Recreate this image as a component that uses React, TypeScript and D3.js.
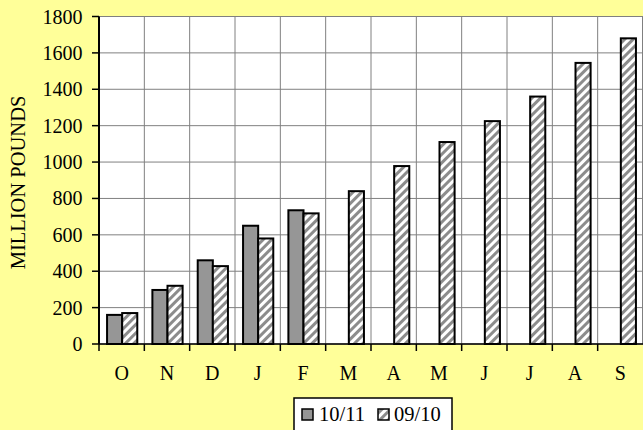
import React from "react";
import * as d3 from "d3";

const categories = ["O", "N", "D", "J", "F", "M", "A", "M", "J", "J", "A", "S"];
const series1011 = [160, 297, 460, 650, 735, null, null, null, null, null, null, null];
const series0910 = [170, 320, 428, 580, 718, 840, 978, 1110, 1225, 1360, 1545, 1680];
const yTicks = [0, 200, 400, 600, 800, 1000, 1200, 1400, 1600, 1800];

const W = 643, H = 430;
const left = 99, right = 643, top = 16.5, bottom = 344;

export default function App() {
  const x = d3.scaleBand<number>().domain(d3.range(categories.length)).range([left, right]);
  const y = d3.scaleLinear().domain([0, 1800]).range([bottom, top]);
  const bw = x.bandwidth() / 3;
  const font = "'Liberation Serif', 'Times New Roman', serif";
  const fs = 20;
  return (
    <svg width={W} height={H} style={{ position: "absolute", left: 0, top: 0 }} fontFamily={font}>
      <defs>
        <pattern id="hatch" width="6" height="6" patternUnits="userSpaceOnUse" patternTransform="rotate(45)">
          <rect width="6" height="6" fill="#ffffff" />
          <rect width="3" height="6" fill="#8c8c8c" />
        </pattern>
      </defs>
      <rect x={0} y={0} width={W} height={H} fill="#FFFF99" />
      <rect x={left} y={top} width={right - left} height={bottom - top} fill="#ffffff" />
      {yTicks.map((t) => (
        <line key={"gy" + t} x1={left} x2={right} y1={y(t)} y2={y(t)} stroke="#808080" strokeWidth={1} />
      ))}
      {categories.map((c, i) => (
        <line key={"gx" + i} x1={x(i)!} x2={x(i)!} y1={top} y2={bottom} stroke="#808080" strokeWidth={1} />
      ))}
      <line x1={right - 0.5} x2={right - 0.5} y1={top} y2={bottom} stroke="#808080" />
      <line x1={left} x2={right} y1={top} y2={top} stroke="#808080" />
      {categories.map((c, i) => {
        const x0 = x(i)! + bw / 2 + 0.5;
        const v1 = series1011[i];
        const v2 = series0910[i];
        return (
          <g key={"b" + i}>
            {v1 != null && (
              <rect x={x0} y={y(v1)} width={bw} height={bottom - y(v1)} fill="#969696" stroke="#000" strokeWidth={2} />
            )}
            {v2 != null && (
              <rect x={x0 + bw} y={y(v2)} width={bw} height={bottom - y(v2)} fill="url(#hatch)" stroke="#000" strokeWidth={2} />
            )}
          </g>
        );
      })}
      <line x1={left} x2={left} y1={top} y2={bottom} stroke="#000" strokeWidth={2} />
      <line x1={left} x2={right} y1={bottom} y2={bottom} stroke="#000" strokeWidth={1.5} />
      {yTicks.map((t) => (
        <g key={"ty" + t}>
          <line x1={left - 7} x2={left} y1={y(t)} y2={y(t)} stroke="#000" strokeWidth={1.5} />
          <text x={82.5} y={y(t)} dy="0.35em" textAnchor="end" fontSize={fs} fill="#000">{t}</text>
        </g>
      ))}
      {categories.map((c, i) => (
        <g key={"tx" + i}>
          <line x1={x(i)!} x2={x(i)!} y1={bottom} y2={bottom + 7} stroke="#000" strokeWidth={1.5} />
          <text x={x(i)! + x.bandwidth() / 2} y={380} textAnchor="middle" fontSize={fs} fill="#000">{c}</text>
        </g>
      ))}
      <text transform={`translate(25,${182.5}) rotate(-90)`} textAnchor="middle" fontSize={20.5} fill="#000">MILLION POUNDS</text>
      <g>
        <rect x={294} y={398} width={158} height={34} fill="#ffffff" stroke="#000" strokeWidth={1.5} />
        <rect x={302} y={409} width={11} height={11} fill="#969696" stroke="#000" strokeWidth={1.5} />
        <text x={319} y={421} fontSize={20.5} fill="#000">10/11</text>
        <rect x={378} y={409} width={11} height={11} fill="url(#hatch)" stroke="#000" strokeWidth={1.5} />
        <text x={394} y={421} fontSize={20.5} fill="#000">09/10</text>
      </g>
    </svg>
  );
}
